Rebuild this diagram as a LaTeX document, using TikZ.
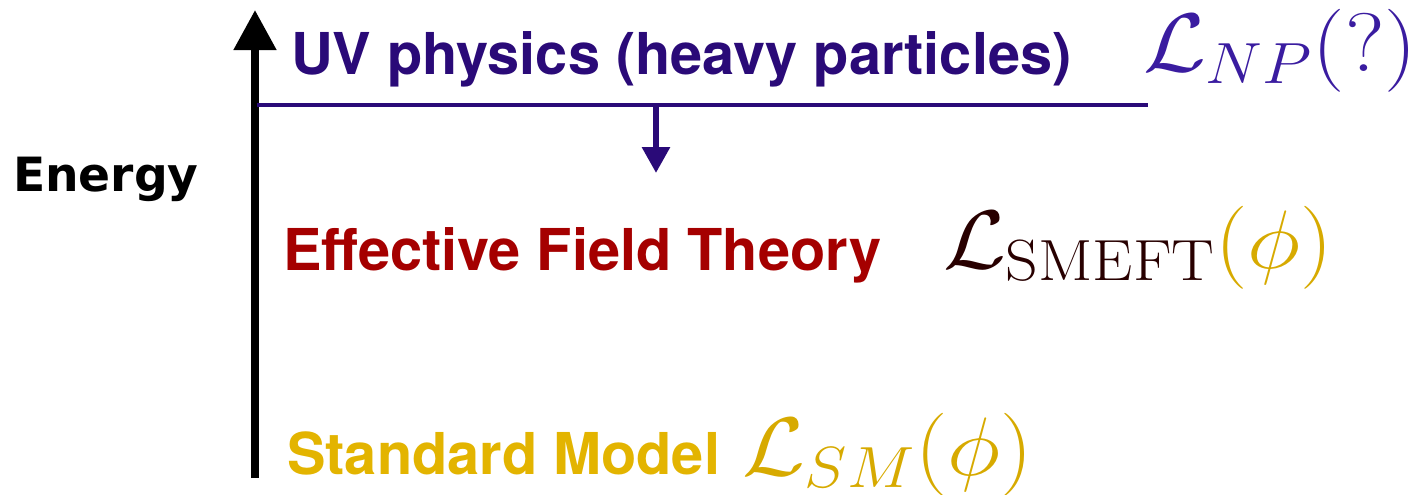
\RequirePackage{fix-cm}
\documentclass[tikz,border=0pt]{standalone}
\usepackage{fontspec}
\newfontfamily\heros{TeX Gyre Heros}
\newfontfamily\djv{DejaVu Sans}
\usetikzlibrary{arrows.meta}
\definecolor{uvc}{RGB}{42,10,120}
\definecolor{npc}{RGB}{58,28,160}
\definecolor{eftc}{RGB}{165,0,0}
\definecolor{smeftL}{RGB}{40,0,0}
\definecolor{goldc}{RGB}{227,180,0}
\definecolor{goldm}{RGB}{215,170,0}
\tikzset{
  lbl/.style={anchor=base west, inner sep=0pt, outer sep=0pt},
  bigtxt/.style={lbl, font=\heros\bfseries\fontsize{28.85}{30}\selectfont},
  mathtxt/.style={lbl, xscale=1.1, font=\fontsize{41.5}{44}\selectfont},
}
\begin{document}
\begin{tikzpicture}[x=0.5pt,y=-0.5pt]
\useasboundingbox (0,0) rectangle (1410,494);
% energy axis
\coordinate (abot) at (255,478);
\coordinate (atop) at (255,10);
\draw[line width=4pt, -{Triangle[width=20.5pt,length=20pt]}] (abot) -- (atop);
% UV scale line
\coordinate (uvl) at (257,105);
\coordinate (uvr) at (1148,105);
\coordinate (dstart) at (656,105);
\coordinate (dend) at (656,173);
\draw[uvc, line width=2pt] (uvl) -- (uvr);
\draw[uvc, line width=3pt, -{Triangle[width=13.5pt,length=13pt]}] (dstart) -- (dend);
% labels
\node[lbl, font=\djv\bfseries\fontsize{23.6}{26}\selectfont] (energy) at (13,191) {Energy};
\node[bigtxt, text=uvc] (uv) at (291,74) {UV physics (heavy particles)};
\node[mathtxt, text=npc] (lnp) at (1143,71) {$\mathcal{L}_{NP}(?)$};
\node[bigtxt, text=eftc] (eft) at (283,270) {Effective Field Theory};
\node[mathtxt, text=smeftL] (lsmeft) at (943,268) {$\mathcal{L}_{\mathrm{SMEFT}}\textcolor{goldm}{(\phi)}$};
\node[bigtxt, text=goldc] (sm) at (287,474) {Standard Model};
\node[mathtxt, text=goldm] (lsm) at (742,475) {$\mathcal{L}_{SM}(\phi)$};
\end{tikzpicture}
\end{document}
